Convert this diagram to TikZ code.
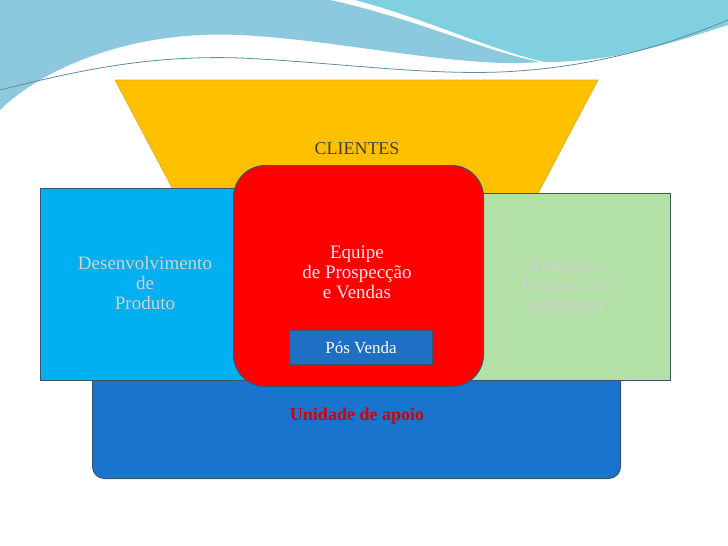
\documentclass[tikz,border=0pt]{standalone}
\usepackage{fontspec}
\setmainfont{Liberation Serif}
\definecolor{yel}{HTML}{FFC000}
\definecolor{lbl}{HTML}{00B0F0}
\definecolor{grn}{HTML}{B3E0A6}
\definecolor{bot}{HTML}{1874CD}
\definecolor{pvc}{HTML}{1F6FC4}
\definecolor{edge}{HTML}{3A5570}
\definecolor{waveA}{HTML}{8CC8DE}
\definecolor{waveB}{HTML}{80D0E0}
\definecolor{txg}{HTML}{D0D0D0}
\begin{document}
\begin{tikzpicture}[x=1pt,y=-1pt,
  boxline/.style={draw=edge, line width=1pt},
  lab/.style={font=\fontsize{19}{20}\selectfont, align=center, text=txg}]
\useasboundingbox (0,0) rectangle (728,546);
\fill[white] (0,0) rectangle (728,546);
% waves
\fill[waveA] (0,0) -- (330,0) .. controls (420,20) and (480,50) .. (540,62) .. controls (450,70) and (300,30) .. (200,35) .. controls (100,40) and (30,80) .. (0,110) -- cycle;
\fill[waveB] (355,0) -- (728,0) -- (728,25) .. controls (680,40) and (620,62) .. (545,62) .. controls (490,50) and (430,20) .. (355,0) -- cycle;
\draw[waveA!70!black, line width=0.8pt] (0,90) .. controls (80,70) and (150,55) .. (240,58) .. controls (330,62) and (420,75) .. (500,72) .. controls (600,68) and (680,40) .. (728,20);
% yellow trapezoid
\node[coordinate] (t1) at (115,80) {}; \node[coordinate] (t2) at (598,80) {};
\node[coordinate] (b1) at (205,250) {}; \node[coordinate] (b2) at (508,250) {};
\fill[yel] (t1) -- (t2) -- (b2) -- (b1) -- cycle;
\draw[yel!70!gray, line width=0.6pt] (t1) -- (t2) -- (b2) -- (b1) -- cycle;
\node[font=\fontsize{18}{20}\selectfont, text=black!75] (cli) at (357,149) {CLIENTES};
% bottom
\node[boxline, fill=bot, rounded corners=12pt, minimum width=528pt, minimum height=140pt, anchor=north west] (apoio) at (92,338) {};
\node[font=\fontsize{18}{20}\selectfont\bfseries, text=red!85!black] (ua) at (357,416) {Unidade de apoio};
% side boxes
\node[boxline, fill=lbl, minimum width=212pt, minimum height=192pt, anchor=north west] (left) at (40,188) {};
\node[lab] at (145,283) {Desenvolvimento\\de\\Produto};
\node[boxline, fill=grn, minimum width=200pt, minimum height=187pt, anchor=north west] (right) at (470,193) {};
\node[lab] at (566,287) {Entrega e\\Pesquisa de\\satisfação};
% red center
\node[boxline, fill=red, rounded corners=32pt, minimum width=250pt, minimum height=221pt, anchor=north west] (red) at (233,165) {};
\node[lab, text=black!8] (eq) at (357,272) {Equipe\\de Prospecção\\e Vendas};
\node[boxline, fill=pvc, minimum width=143pt, minimum height=34pt, anchor=north west] (pv) at (289,330) {};
\node[font=\fontsize{17}{19}\selectfont, text=white] at (pv) {Pós Venda};
\end{tikzpicture}
\end{document}
